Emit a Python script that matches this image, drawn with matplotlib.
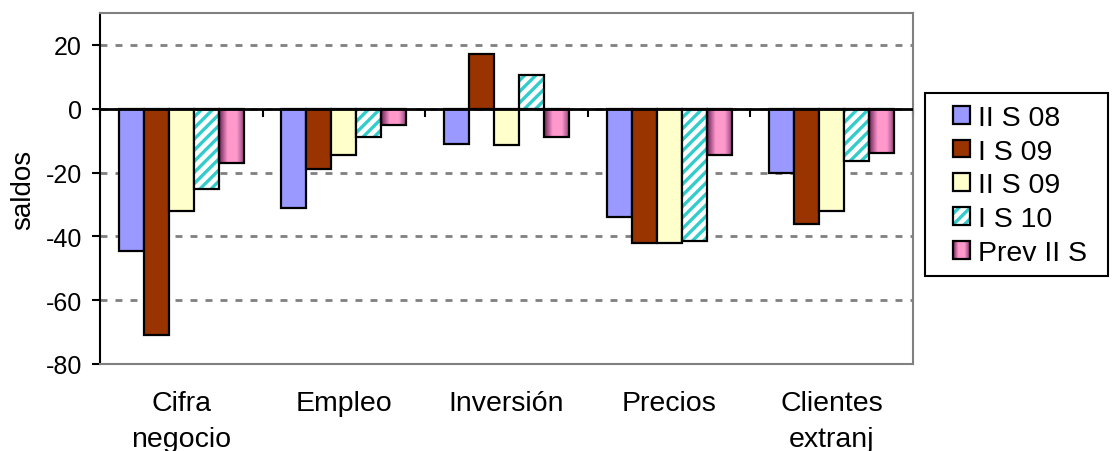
import matplotlib
matplotlib.use('Agg')
import matplotlib.pyplot as plt
import numpy as np
from matplotlib.colors import LinearSegmentedColormap
from matplotlib.legend_handler import HandlerBase
from matplotlib.patches import Rectangle

plt.rcParams['font.family'] = ['Liberation Sans', 'DejaVu Sans']
plt.rcParams['hatch.linewidth'] = 2.4

categories = ["Cifra\nnegocio", "Empleo", "Inversión", "Precios", "Clientes\nextranj"]
series_names = ["II S 08", "I S 09", "II S 09", "I S 10", "Prev II S"]
ii_s_08 = [-44.5, -31, -11, -34, -20]
i_s_09 = [-71, -19, 17, -42, -36]
ii_s_09 = [-32, -14.5, -11.5, -42, -32]
i_s_10 = [-25, -9, 10.5, -41.5, -16.5]
prev_ii_s = [-17, -5, -9, -14.5, -14]
yticks = [-80, -60, -40, -20, 0, 20]

GRAY = '#808080'
TEAL = '#33CCCC'
HATCH = '///'
grad_cmap = LinearSegmentedColormap.from_list(
    'pinkgrad', [(0.0, '#6E2259'), (0.35, '#FF99CC'), (0.72, '#FF99CC'), (1.0, '#9A4683')])

fig = plt.figure(figsize=(11.12, 4.52), dpi=100)
ax = fig.add_axes([100 / 1112, 1 - 365 / 452, 813 / 1112, 351 / 452])

x = np.arange(len(categories))
w = 0.1536
edge_lw = 1.6

def off(i):
    return x + (i - 2) * w

b0 = ax.bar(off(0), ii_s_08, w, facecolor='#9999FF', edgecolor='black', lw=edge_lw, zorder=3)
b1 = ax.bar(off(1), i_s_09, w, facecolor='#993300', edgecolor='black', lw=edge_lw, zorder=3)
b2 = ax.bar(off(2), ii_s_09, w, facecolor='#FFFFCC', edgecolor='black', lw=edge_lw, zorder=3)
b3h = ax.bar(off(3), i_s_10, w, facecolor='white', edgecolor=TEAL, hatch=HATCH, lw=0, zorder=3)
b3e = ax.bar(off(3), i_s_10, w, fill=False, edgecolor='black', lw=edge_lw, zorder=3.5)
b4 = ax.bar(off(4), prev_ii_s, w, facecolor='none', edgecolor='black', lw=edge_lw, zorder=3.5)

grad = np.linspace(0, 1, 64).reshape(1, -1)
for p in b4.patches:
    x0, y0 = p.get_x(), p.get_y()
    pw, ph = p.get_width(), p.get_height()
    im = ax.imshow(grad, extent=[x0, x0 + pw, min(y0, y0 + ph), max(y0, y0 + ph)],
                   aspect='auto', cmap=grad_cmap, zorder=3, interpolation='bilinear')
    im.set_clip_path(p)

ax.set_xlim(-0.5, len(categories) - 0.5)
ax.set_ylim(-80, 30)
ax.set_aspect('auto')

ax.set_yticks(yticks)
ax.set_yticklabels([str(v) for v in yticks])
ax.tick_params(axis='y', direction='out', length=6, width=1.5, color='black',
               labelsize=18, pad=7)
ax.set_xticks(x)
ax.set_xticklabels(categories, fontsize=20.5, linespacing=1.5)
ax.tick_params(axis='x', length=0, pad=19)

for s in ['top', 'right', 'bottom']:
    ax.spines[s].set_color(GRAY)
    ax.spines[s].set_linewidth(1.5)
ax.spines['left'].set_color('black')
ax.spines['left'].set_linewidth(1.5)

ax.yaxis.grid(True, color=GRAY, linestyle=(0, (2.5, 2.9)), linewidth=2)
ax.set_axisbelow(True)

ax.axhline(0, color='black', lw=2, zorder=4)
sec = ax.secondary_xaxis(80 / 110)
sec.set_xticks(np.arange(-0.5, len(categories), 1.0))
sec.xaxis.set_ticks_position('bottom')
sec.tick_params(axis='x', direction='out', length=6, width=1.5, color='black',
                labelbottom=False, labeltop=False)
for s in sec.spines.values():
    s.set_visible(False)

ax.set_ylabel('saldos', fontsize=20, labelpad=7)


class HandlerGradient(HandlerBase):
    def create_artists(self, legend, orig_handle, xdescent, ydescent, width, height, fontsize, trans):
        arts = []
        n = 16
        for k in range(n):
            c = grad_cmap((k + 0.5) / n)
            arts.append(Rectangle((-xdescent + k * width / n, -ydescent), width / n, height,
                                  facecolor=c, edgecolor='none', transform=trans))
        arts.append(Rectangle((-xdescent, -ydescent), width, height, facecolor='none',
                              edgecolor='black', lw=edge_lw, transform=trans))
        return arts


class HandlerHatch(HandlerBase):
    def create_artists(self, legend, orig_handle, xdescent, ydescent, width, height, fontsize, trans):
        r1 = Rectangle((-xdescent, -ydescent), width, height, facecolor='white',
                       edgecolor=TEAL, hatch=HATCH, lw=0, transform=trans)
        r2 = Rectangle((-xdescent, -ydescent), width, height, facecolor='none',
                       edgecolor='black', lw=edge_lw, transform=trans)
        return [r1, r2]


handles = [b0, b1, b2, b3e, b4]
leg = fig.legend(handles, series_names, loc='upper left',
                 bbox_to_anchor=(953 / 1112, 1 - 106 / 452), frameon=False,
                 borderpad=0, borderaxespad=0, handlelength=0.58, handleheight=0.58,
                 handletextpad=0.3, labelspacing=0.27, fontsize=20.5,
                 handler_map={b4: HandlerGradient(), b3e: HandlerHatch()})
fig.add_artist(Rectangle((925 / 1112, 1 - 277 / 452), 183 / 1112, 183 / 452,
                         transform=fig.transFigure, fill=False, edgecolor='black', lw=1.5))

fig.savefig('out.png', dpi=100)
